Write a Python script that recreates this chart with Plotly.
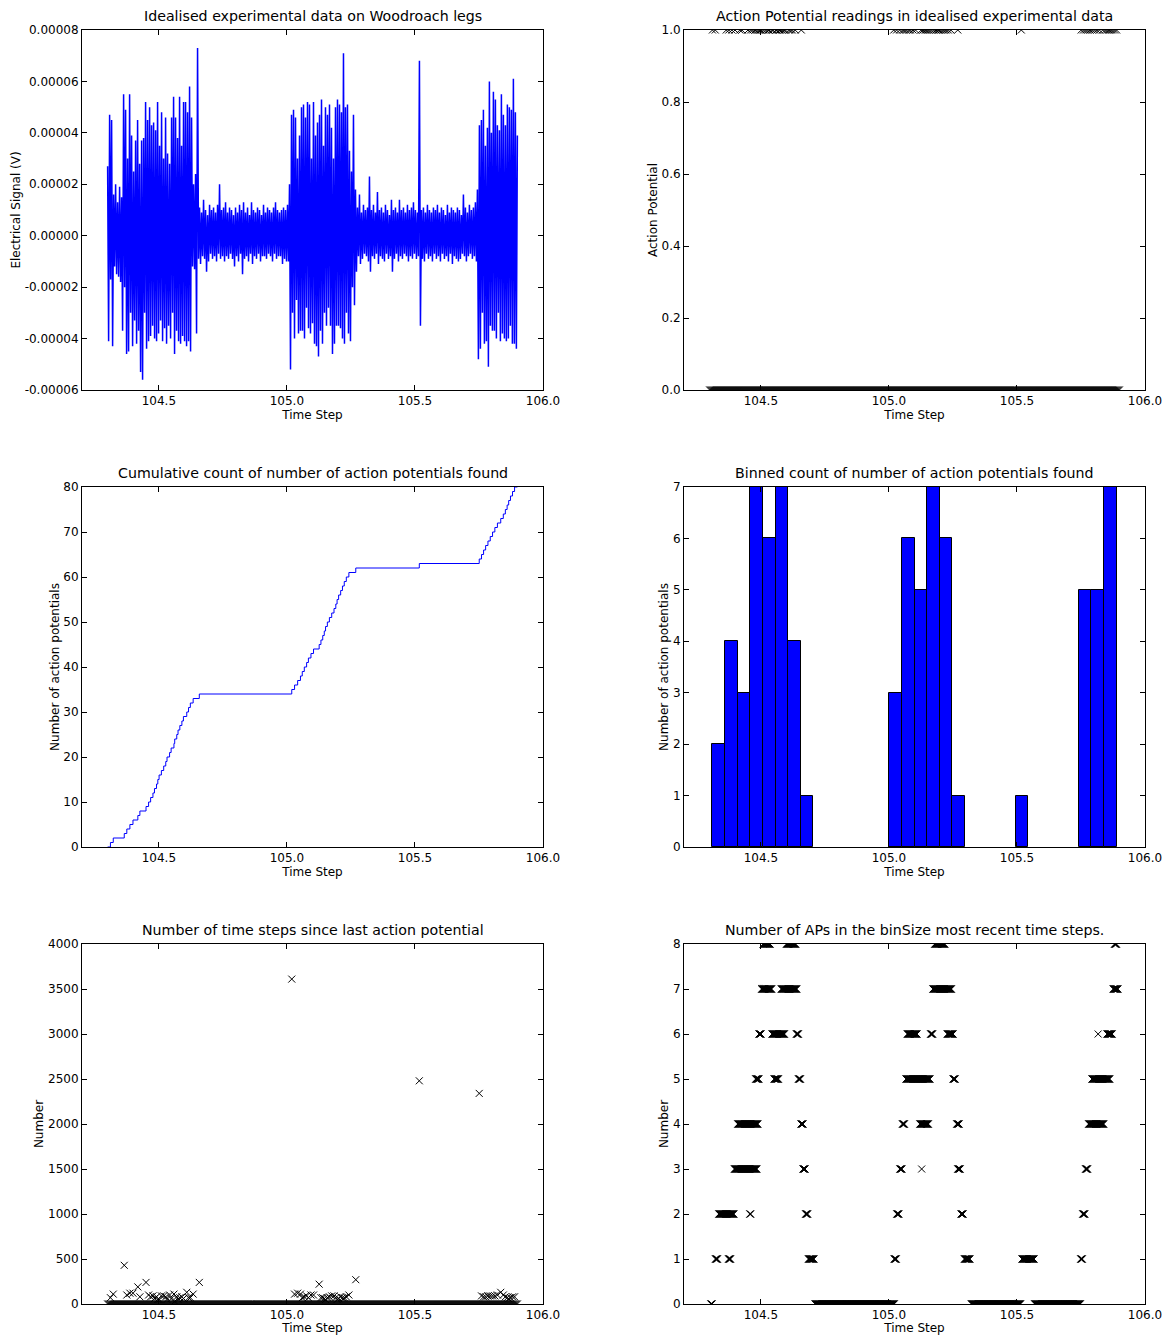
import numpy as np
import plotly.graph_objects as go
from plotly.subplots import make_subplots

# ---------------- data ----------------
signal_start = 104.30
signal_end = 105.90
# electrical signal, micro-volts, alternating extremes
signal_uv = [
    # burst 1 start
    27, -41, 47, -17, 45, -43, 16, -12, 20, -15, 13, -16, 19, -18, 15, -37, 55, -20,
    # burst 1
    49, -46, 30, -45, 55, -30, 39, -43, 25, -33, 37, -42, 45, -37, 28,
    -53, 37, -56, 38, -30, 52, -44, 45, -41, 50, -39, 43, -35, 44, -40,
    41, -41, 52, -38, 35, -33, 48, -41, 30, -36, 46, -42, 32, -35, 28,
    -40, 46, -30, 54, -46, 46,
    -37, 38, -41, 54, -42, 35, -39, 52, -41, 52, -43, 48, -41, 58, -45, 46,
    -12, 20, -13, 24, -38, 73,
    # quiet 1
    -9, 11, -11, 9, -8, 14, -9, 10, -14, 8,
    -10, 12, -7, 10, -9, 11, -8, 9, -10, 12,
    -7, 20, -9, 10, -8, 11, -10, 13, -8, 9,
    -9, 11, -7, 10, -9, 8, -12, 11, -8, 9,
    -10, 12, -7, 10, -15, 13, -9, 9, -8, 11,
    -10, 8, -7, 13, -11, 10, -8, 9, -9, 11,
    -7, 10, -10, 8, -8, 12, -8, 9, -9, 11,
    -7, 10, -8, 9, -10, 11, -7, 13, -9, 10,
    -8, 9, -8, 10, -11, 11, -9, 10, -10, 12,
    # burst 2
    -10, 20, -52, 47, -30, 49, -40, 46, -25, 30,
    -38, 39, -37, 50, -37, 51, -40, 46, -28, 52,
    -36, 51, -38, 30, -34, 52, -42, 39, -43, 44,
    -47, 47, -37, 53, -42, 35, -30, 50, -35, 47,
    -28, 51, -35, 42, -46, 30, -42, 50, -35, 53,
    -35, 51, -36, 48, -40, 71, -42, 50, -30, 51,
    -38, 33, -41, 25, -20, 47, -27, 18, -14,
    # quiet 2
    11, -8, 16, -11, 9, -9, 12, -7, 10, -8,
    11, -10, 23, -14, 10, -8, 12, -9, 9, -7,
    17, -11, 10, -8, 11, -9, 9, -10, 12, -7,
    10, -9, 8, -8, 14, -14, 10, -9, 11, -7,
    9, -10, 14, -8, 10, -9, 11, -7, 9, -8,
    12, -10, 10, -8, 11, -9, 13, -7, 10, -9,
    9, -8, 68, -35, 10, -9, 11, -10, 9, -7,
    12, -9, 10, -8, 9, -10, 11, -7, 10, -9,
    12, -8, 9, -10, 11, -7, 10, -9, 8, -8,
    12, -10, 9, -7, 11, -11, 10, -8, 9, -9,
    11, -10, 10, -9, 8, -7, 16, -8, 11, -10,
    9, -8, 12, -7, 10, -9, 11, -8, 13, -10,
    18,
    # burst 3
    -48, 43, -44, 45, -30, 49, -42, 35, -41, 42,
    -51, 60, -35, 40, -37, 56, -37, 53, -40, 43,
    -30, 41, -41, 55, -38, 47, -40, 43, -41, 51,
    -40, 50, -35, 49, -42, 61, -42, 48, -44, 39,
]

ap_times = [
    104.311, 104.322,
    104.365, 104.375, 104.387, 104.399,
    104.418, 104.426, 104.450,
    104.460, 104.468, 104.477, 104.483, 104.491, 104.496, 104.501,
    104.510, 104.519, 104.527, 104.532, 104.542, 104.548,
    104.559, 104.562, 104.570, 104.575, 104.582, 104.590, 104.596,
    104.609, 104.616, 104.623, 104.634,
    104.658,
    105.019, 105.030, 105.042,
    105.053, 105.060, 105.068, 105.077, 105.084, 105.094,
    105.104, 105.126, 105.133, 105.140, 105.146,
    105.151, 105.158, 105.166, 105.175, 105.184, 105.191, 105.196,
    105.202, 105.210, 105.217, 105.224, 105.232, 105.242,
    105.269,
    105.517,
    105.751, 105.760, 105.768, 105.776, 105.785,
    105.794, 105.803, 105.812, 105.822, 105.835,
    105.845, 105.853, 105.860, 105.866, 105.873, 105.881, 105.889,
]
record_start = 104.304
steps_per_time_unit = 10000
n_bins = 32

# number of APs in most recent binSize steps: runs (level, start, end)
recent_level = [0, 0, 0, 0,
                1, 1, 1, 1, 1, 1, 1,
                2, 2, 2, 2, 2, 2,
                3, 3, 3, 3, 3, 3,
                4, 4, 4, 4, 4, 4,
                5, 5, 5, 5, 5, 5,
                6, 6, 6, 6, 6, 6, 6, 6,
                7, 7, 7, 7,
                8, 8, 8, 8]
recent_start = [104.305, 104.712, 105.322, 105.569,
                104.323, 104.374, 104.686, 105.021, 105.295, 105.520, 105.749,
                104.336, 104.457, 104.675, 105.031, 105.282, 105.757,
                104.397, 104.665, 105.043, 105.128, 105.269, 105.768,
                104.410, 104.657, 105.053, 105.121, 105.265, 105.780,
                104.480, 104.552, 104.647, 105.067, 105.251, 105.793,
                104.493, 104.544, 104.639, 105.072, 105.163, 105.228, 105.817, 105.852,
                104.503, 104.580, 105.172, 105.876,
                104.509, 104.600, 105.179, 105.881]
recent_end = [104.310, 105.022, 105.515, 105.748,
              104.331, 104.382, 104.708, 105.029, 105.316, 105.567, 105.755,
              104.395, 104.461, 104.683, 105.039, 105.290, 105.765,
              104.485, 104.673, 105.051, 105.128, 105.278, 105.776,
              104.489, 104.665, 105.061, 105.155, 105.274, 105.839,
              104.492, 104.569, 104.655, 105.161, 105.259, 105.863,
              104.501, 104.592, 104.647, 105.110, 105.171, 105.251, 105.817, 105.872,
              104.543, 104.640, 105.245, 105.895,
              104.537, 104.636, 105.219, 105.889]

x_ticks = [104.5, 105.0, 105.5, 106.0]
x_tick_labels = ["104.5", "105.0", "105.5", "106.0"]
sig_ticks = [-6e-5, -4e-5, -2e-5, 0, 2e-5, 4e-5, 6e-5, 8e-5]
sig_tick_labels = ["-0.00006", "-0.00004", "-0.00002", "0.00000",
                   "0.00002", "0.00004", "0.00006", "0.00008"]
ap_ticks = [0, 0.2, 0.4, 0.6, 0.8, 1.0]
ap_tick_labels = ["0.0", "0.2", "0.4", "0.6", "0.8", "1.0"]
cum_ticks = [0, 10, 20, 30, 40, 50, 60, 70, 80]
bin_ticks = [0, 1, 2, 3, 4, 5, 6, 7]
gap_ticks = [0, 500, 1000, 1500, 2000, 2500, 3000, 3500, 4000]
recent_ticks = [0, 1, 2, 3, 4, 5, 6, 7, 8]

titles = [
    "Idealised experimental data on Woodroach legs",
    "Action Potential readings in idealised experimental data",
    "Cumulative count of number of action potentials found",
    "Binned count of number of action potentials found",
    "Number of time steps since last action potential",
    "Number of APs in the binSize most recent time steps.",
]
y_titles = ["Electrical Signal (V)", "Action Potential",
            "Number of action potentials", "Number of action potentials",
            "Number", "Number"]

# ---------------- derived ----------------
t_grid = np.linspace(signal_start, signal_end, len(signal_uv))
signal_v = np.array(signal_uv) * 1e-6
ap = np.array(ap_times)
cum_x = np.r_[signal_start, ap, signal_end]
cum_y = np.r_[0, np.arange(1, len(ap) + 1), len(ap)]
counts, edges = np.histogram(ap, bins=n_bins)
centers = (edges[:-1] + edges[1:]) / 2
bw = edges[1] - edges[0]
nz = counts > 0
gaps = np.diff(np.r_[record_start, ap]) * steps_per_time_unit

rx, ry = [], []
for lv, s, e in zip(recent_level, recent_start, recent_end):
    xs = np.arange(s, e + 1e-9, 0.0015) if e > s else np.array([s])
    rx.extend(xs)
    ry.extend([lv] * len(xs))

BLUE = "#0000ff"
xmark = dict(symbol="x-thin", size=7, color="black", line=dict(color="black", width=1))

fig = make_subplots(rows=3, cols=2)
fig.add_trace(go.Scatter(x=t_grid, y=signal_v, mode="lines",
                         line=dict(color=BLUE, width=1.5)), row=1, col=1)
fig.add_trace(go.Scatter(x=t_grid, y=np.zeros(len(t_grid)), mode="markers",
                         marker=xmark), row=1, col=2)
fig.add_trace(go.Scatter(x=ap, y=np.ones(len(ap)), mode="markers",
                         marker=xmark), row=1, col=2)
fig.add_trace(go.Scatter(x=cum_x, y=cum_y, mode="lines", line_shape="hv",
                         line=dict(color=BLUE, width=1)), row=2, col=1)
fig.add_trace(go.Bar(x=centers[nz], y=counts[nz], width=bw,
                     marker=dict(color=BLUE, line=dict(color="black", width=1))),
              row=2, col=2)
fig.add_trace(go.Scatter(x=t_grid, y=np.zeros(len(t_grid)), mode="markers",
                         marker=xmark), row=3, col=1)
fig.add_trace(go.Scatter(x=ap, y=gaps, mode="markers", marker=xmark), row=3, col=1)
fig.add_trace(go.Scatter(x=rx, y=ry, mode="markers", marker=xmark), row=3, col=2)

W, H = 1169, 1335
col_dom = [[82 / W, 543 / W], [684 / W, 1145 / W]]
row_dom = [[1 - 390 / H, 1 - 30 / H], [1 - 847 / H, 1 - 487 / H], [1 - 1304 / H, 1 - 944 / H]]

y_specs = [
    ([-6e-5, 8e-5], sig_ticks, sig_tick_labels),
    ([0, 1], ap_ticks, ap_tick_labels),
    ([0, 80], cum_ticks, [str(v) for v in cum_ticks]),
    ([0, 7], bin_ticks, [str(v) for v in bin_ticks]),
    ([0, 4000], gap_ticks, [str(v) for v in gap_ticks]),
    ([0, 8], recent_ticks, [str(v) for v in recent_ticks]),
]

common = dict(showline=True, linecolor="black", linewidth=1, mirror="ticks",
              ticks="inside", ticklen=5, tickwidth=1, tickcolor="black",
              showgrid=False, zeroline=False, automargin=False,
              tickfont=dict(size=12, color="black", family="DejaVu Sans"))

annotations = []
for i in range(6):
    r, c = divmod(i, 2)
    xd, yd = col_dom[c], row_dom[r]
    sfx = "" if i == 0 else str(i + 1)
    rng, tv, tt = y_specs[i]
    fig.layout["xaxis" + sfx].update(
        domain=xd, range=[104.2, 106.0], tickvals=x_ticks, ticktext=x_tick_labels,
        title=dict(text="Time Step", standoff=2,
                   font=dict(size=12, color="black", family="DejaVu Sans")),
        **common)
    fig.layout["yaxis" + sfx].update(
        domain=yd, range=rng, tickvals=tv, ticktext=tt,
        title=dict(text=y_titles[i], standoff=1,
                   font=dict(size=12, color="black", family="DejaVu Sans")),
        **common)
    annotations.append(dict(text=titles[i], x=(xd[0] + xd[1]) / 2, y=yd[1],
                            xref="paper", yref="paper", xanchor="center",
                            yanchor="middle", yshift=14, showarrow=False,
                            font=dict(size=14.2, color="black", family="DejaVu Sans")))

fig.update_layout(width=W, height=H,
                  margin=dict(l=0, r=0, t=0, b=0, autoexpand=False),
                  plot_bgcolor="white", paper_bgcolor="white", showlegend=False,
                  bargap=0, annotations=annotations,
                  font=dict(family="DejaVu Sans", size=12, color="black"))

fig.write_html("out.html", config={"displayModeBar": False},
               post_script="document.body.style.margin='0px';")
